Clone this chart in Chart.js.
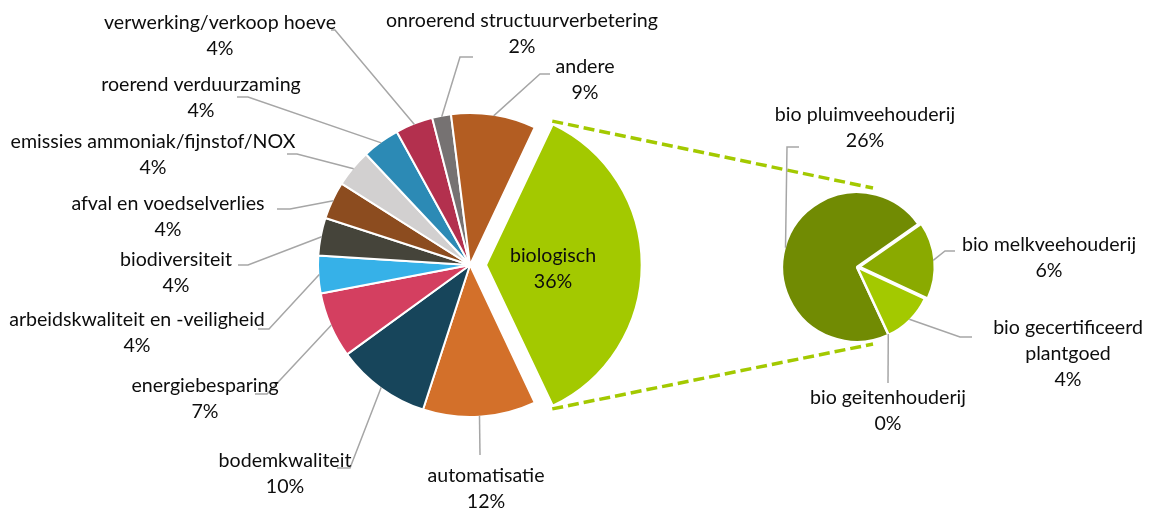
<!DOCTYPE html>
<html>
<head>
<meta charset="utf-8">
<script src="https://cdn.jsdelivr.net/npm/chart.js@4.4.1/dist/chart.umd.min.js"></script>
<style>
  html, body { margin: 0; padding: 0; background: #fff; }
  #wrap { position: relative; width: 1149px; height: 511px; }
  #wrap canvas { position: absolute; left: 0; top: 0; }
</style>
</head>
<body>
<div id="wrap">
  <canvas id="mainPie" width="1149" height="511"></canvas>
  <canvas id="bioPie" width="1149" height="511"></canvas>
</div>
<script>
// data hoofdtaart (volgorde met de klok mee, vanaf 'biologisch')
const categories = ['biologisch', 'automatisatie', 'bodemkwaliteit', 'energiebesparing',
  'arbeidskwaliteit en -veiligheid', 'biodiversiteit', 'afval en voedselverlies',
  'emissies ammoniak/fijnstof/NOX', 'roerend verduurzaming', 'verwerking/verkoop hoeve',
  'onroerend structuurverbetering', 'andere'];
const shares = [36, 12, 10, 7, 4, 4, 4, 4, 4, 4, 2, 9];

// data tweede taart (uitsplitsing biologisch)
const bioCategories = ['bio pluimveehouderij', 'bio melkveehouderij', 'bio gecertificeerd plantgoed', 'bio geitenhouderij'];
const bioShares = [26, 6, 4, 0];

const mainColors = ['#A3C900', '#D3702A', '#17455B', '#D43F60', '#36B1E8', '#45443A',
  '#8C4C1F', '#D2D0D0', '#2C8AB5', '#B3304E', '#767272', '#B35D22'];
const bioColors = ['#718B03', '#8AAA00', '#A3C900', '#C5DC5A'];

const FONT_SIZE = 19.6;
const FONT = FONT_SIZE + 'px Lato, "Open Sans", sans-serif';
const LINE_H = 26;
const LEADER = '#A6A6A6';

// label plaatsing: x/y = midden eerste regel, elbow = knik leader line, endX = einde horizontaal stukje
const mainLabelLayout = [
  { x: 553, y: 256 },
  { x: 486, y: 476, elbow: [480, 455] },
  { x: 285, y: 461, elbow: [350, 468], endX: 337 },
  { x: 205, y: 386, elbow: [267, 394], endX: 255 },
  { x: 137, y: 320, elbow: [269, 329], endX: 258 },
  { x: 176, y: 260, elbow: [248, 265], endX: 238 },
  { x: 168, y: 204, elbow: [290, 209], endX: 277 },
  { x: 153, y: 142, elbow: [297, 154], endX: 287 },
  { x: 201, y: 85, elbow: [248, 97], endX: 237 },
  { x: 220, y: 23, elbow: [335, 30], endX: 331 },
  { x: 522, y: 21, elbow: [460, 57], endX: 473 },
  { x: 585, y: 67, elbow: [540, 74], endX: 550 }
];
const bioLabelLayout = [
  { x: 865, y: 115, elbow: [787, 147], endX: 799 },
  { x: 1049, y: 245, elbow: [945, 251], endX: 955 },
  { x: 1068, y: 328, elbow: [960, 337], endX: 972, split: 2 },
  { x: 888, y: 398, elbow: [888, 383] }
];

function drawLabels(chart, names, values, layout) {
  const ctx = chart.ctx;
  const arcs = chart.getDatasetMeta(0).data;
  ctx.save();
  arcs.forEach((arc, i) => {
    const L = layout[i];
    if (L.elbow) {
      const mid = (arc.startAngle + arc.endAngle) / 2;
      const shift = (arc.options.offset || 0) / 4;
      const r = arc.outerRadius + shift - 1;
      ctx.beginPath();
      ctx.strokeStyle = LEADER;
      ctx.lineWidth = 1.5;
      ctx.moveTo(arc.x + Math.cos(mid) * r, arc.y + Math.sin(mid) * r);
      ctx.lineTo(L.elbow[0], L.elbow[1]);
      if (L.endX != null) ctx.lineTo(L.endX, L.elbow[1]);
      ctx.stroke();
    }
    let lines = [names[i]];
    if (L.split) {
      const w = names[i].split(' ');
      lines = [w.slice(0, L.split).join(' '), w.slice(L.split).join(' ')];
    }
    lines.push(values[i] + '%');
    ctx.font = FONT;
    ctx.fillStyle = '#0d0d0d';
    ctx.textAlign = 'center';
    ctx.textBaseline = 'middle';
    lines.forEach((t, k) => ctx.fillText(t, L.x, L.y + k * LINE_H));
  });
  ctx.restore();
}

const mainChart = new Chart(document.getElementById('mainPie'), {
  type: 'pie',
  data: {
    labels: categories,
    datasets: [{
      data: shares,
      backgroundColor: mainColors,
      borderColor: '#fff',
      borderWidth: 2,
      offset: shares.map((v, i) => i === 0 ? 64 : 0)
    }]
  },
  options: {
    responsive: false,
    animation: false,
    rotation: 25.2,
    radius: 152,
    layout: { padding: { left: 0, right: 209, top: 19, bottom: 0 } },
    plugins: { legend: { display: false }, tooltip: { enabled: false } }
  },
  plugins: [{
    id: 'mainLabels',
    afterDraw(chart) { drawLabels(chart, categories, shares, mainLabelLayout); }
  }]
});

new Chart(document.getElementById('bioPie'), {
  type: 'pie',
  data: {
    labels: bioCategories,
    datasets: [{
      data: bioShares,
      backgroundColor: bioColors,
      borderColor: '#fff',
      borderWidth: 2.5,
      offset: [0, 10, 0, 0]
    }]
  },
  options: {
    responsive: false,
    animation: false,
    rotation: 155,
    radius: 75,
    layout: { padding: { left: 565, right: 0, top: 23, bottom: 0 } },
    plugins: { legend: { display: false }, tooltip: { enabled: false } }
  },
  plugins: [{
    id: 'connectors',
    beforeDraw(chart) {
      // gestippelde verbindingslijnen tussen 'biologisch' en de tweede taart
      const bio = mainChart.getDatasetMeta(0).data[0];
      const mid = (bio.startAngle + bio.endAngle) / 2;
      const s = (bio.options.offset || 0) / 4;
      const fix = 1 - Math.sin(Math.min(Math.PI, bio.endAngle - bio.startAngle));
      const R = bio.outerRadius + s * fix;
      const ox = bio.x + Math.cos(mid) * s, oy = bio.y + Math.sin(mid) * s;
      const sec = chart.getDatasetMeta(0).data[0];
      const r = sec.outerRadius;
      const ctx = chart.ctx;
      ctx.save();
      ctx.strokeStyle = '#A3C900';
      ctx.lineWidth = 3.5;
      ctx.setLineDash([11, 5]);
      ctx.beginPath();
      ctx.moveTo(ox + Math.cos(bio.startAngle) * R, oy + Math.sin(bio.startAngle) * R - 3);
      ctx.lineTo(sec.x + 16, sec.y - r - 4);
      ctx.moveTo(ox + Math.cos(bio.endAngle) * R, oy + Math.sin(bio.endAngle) * R + 3);
      ctx.lineTo(sec.x + 16, sec.y + r + 2);
      ctx.stroke();
      ctx.restore();
    },
    afterDraw(chart) { drawLabels(chart, bioCategories, bioShares, bioLabelLayout); }
  }]
});
</script>
</body>
</html>
